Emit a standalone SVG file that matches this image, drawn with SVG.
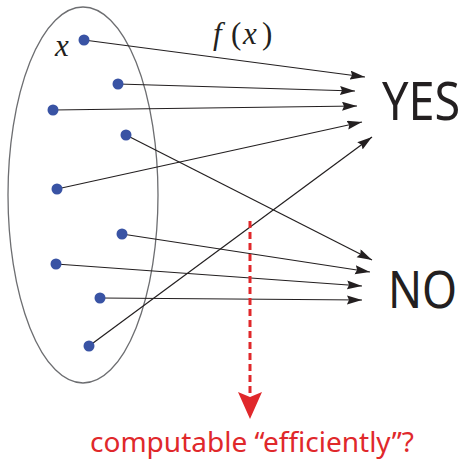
<svg xmlns="http://www.w3.org/2000/svg" width="464" height="461" viewBox="0 0 464 461">
  <style>
    .dot { fill: #3953a4; }
    .edge { stroke: #231f20; stroke-width: 1.2; fill: none; marker-end: url(#ah); }
    .big { font-family: "Noto Sans", "Open Sans", sans-serif; fill: #231f20; }
    .math { font-family: "Liberation Serif", serif; font-size: 31px; fill: #231f20; }
  </style>
  <defs>
    <marker id="ah" markerUnits="userSpaceOnUse" markerWidth="16" markerHeight="10" refX="15" refY="4.5" orient="auto">
      <path d="M0,0 L15,4.5 L0,9 L2,4.5 z" fill="#231f20"/>
    </marker>
  </defs>
  <rect width="464" height="461" fill="#ffffff"/>
  <g id="domain">
    <ellipse cx="83" cy="195" rx="75" ry="188" fill="none" stroke="#6d6e71" stroke-width="1.3"/>
    <text class="math" x="55" y="56" font-style="italic">x</text>
  </g>
  <g id="connectors">
    <line class="edge" x1="84" y1="40" x2="365" y2="77"/>
    <line class="edge" x1="118" y1="84" x2="355" y2="91"/>
    <line class="edge" x1="53" y1="110" x2="357" y2="106"/>
    <line class="edge" x1="57" y1="189" x2="362" y2="122"/>
    <line class="edge" x1="89" y1="346" x2="372" y2="137"/>
    <line class="edge" x1="126" y1="135" x2="372" y2="260"/>
    <line class="edge" x1="122" y1="234" x2="370" y2="272"/>
    <line class="edge" x1="56" y1="264" x2="362" y2="286"/>
    <line class="edge" x1="100" y1="298" x2="362" y2="300"/>
  </g>
  <g id="points">
    <circle class="dot" cx="84" cy="40" r="5.5"/>
    <circle class="dot" cx="118" cy="84" r="5.5"/>
    <circle class="dot" cx="53" cy="110" r="5.5"/>
    <circle class="dot" cx="126" cy="135" r="5.5"/>
    <circle class="dot" cx="57" cy="189" r="5.5"/>
    <circle class="dot" cx="122" cy="234" r="5.5"/>
    <circle class="dot" cx="56" cy="264" r="5.5"/>
    <circle class="dot" cx="100" cy="298" r="5.5"/>
    <circle class="dot" cx="89" cy="346" r="5.5"/>
  </g>
  <g id="label-fx">
    <text class="math" x="213" y="44"><tspan font-style="italic">f</tspan><tspan x="231">(</tspan><tspan x="243" font-style="italic">x</tspan><tspan x="262">)</tspan></text>
  </g>
  <g id="yes">
    <text class="big" transform="translate(382,120) scale(0.9,1)" x="0" y="0" font-size="52">YES</text>
  </g>
  <g id="no">
    <text class="big" transform="translate(388,308) scale(0.88,1)" x="0" y="0" font-size="51">NO</text>
  </g>
  <g id="question">
    <line x1="250" y1="221" x2="250" y2="396" stroke="#e0282b" stroke-width="3" stroke-dasharray="7,4"/>
    <path d="M238,392 L250,397 L262,392 L250,419 z" fill="#e0282b"/>
    <text x="90" y="452" font-family="Noto Sans, Open Sans, sans-serif" font-size="27" fill="#e0282b" textLength="324" lengthAdjust="spacingAndGlyphs">computable “efficiently”?</text>
  </g>
</svg>
